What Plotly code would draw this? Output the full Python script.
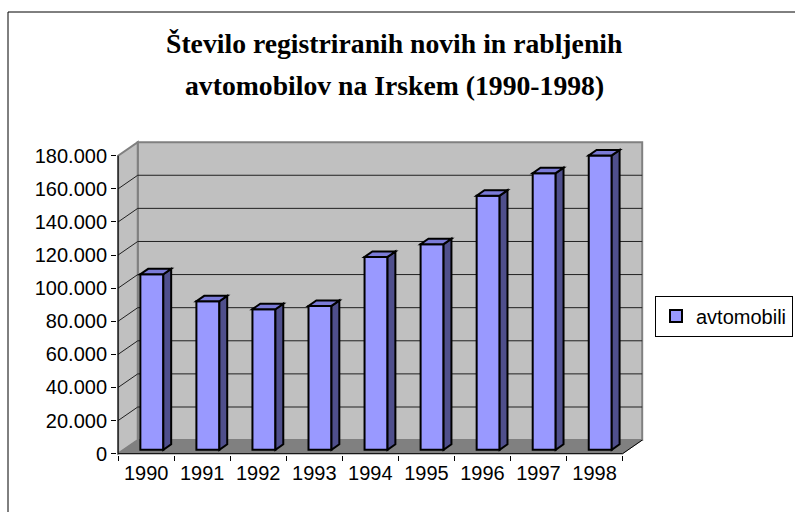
import plotly.graph_objects as go

# ---- data ----
years = ["1990", "1991", "1992", "1993", "1994", "1995", "1996", "1997", "1998"]
cars = [106000, 89700, 84900, 86900, 116500, 124200, 153500, 167100, 177800]
y_ticks = [0, 20000, 40000, 60000, 80000, 100000, 120000, 140000, 160000, 180000]
series_name = "avtomobili"
title_lines = ["Število registriranih novih in rabljenih",
               "avtomobilov na Irskem (1990-1998)"]

# ---- geometry / style ----
W, H = 795, 512
L, R, T, B = 117, 150, 140, 57
PW, PH = W - L - R, H - T - B
X0, X1 = -0.52, 8.9
Y0, Y1 = -800, 189500
DX, DY = 0.35, 8200          # depth offset (back wall relative to front axis)
YMAX = y_ticks[-1]
n = len(years)
XL, XR = -0.5, n - 0.5

T_FRONT, T_BACK = 0.29, 0.69  # depth of bar faces
BW = 0.41

FRONT = "#9999FF"
SIDE = "#4F4F8C"
TOP = "#7B7BD8"
WALL = "#C0C0C0"
FLOOR = "#808080"
EDGE = "#808080"


def px_to_paper_x(px):
    return (px - L) / PW


def px_to_paper_y(py):
    return (H - B - py) / PH


shapes = []
# back wall
shapes.append(dict(type="path", xref="x", yref="y", layer="below",
                   path=f"M{XL+DX},{DY} L{XR+DX},{DY} L{XR+DX},{YMAX+DY} L{XL+DX},{YMAX+DY} Z",
                   fillcolor=WALL, line=dict(color=EDGE, width=2)))
# left wall
shapes.append(dict(type="path", xref="x", yref="y", layer="below",
                   path=f"M{XL},0 L{XL},{YMAX} L{XL+DX},{YMAX+DY} L{XL+DX},{DY} Z",
                   fillcolor=WALL, line=dict(color=EDGE, width=2)))
# floor
shapes.append(dict(type="path", xref="x", yref="y", layer="below",
                   path=f"M{XL},0 L{XR},0 L{XR+DX},{DY} L{XL+DX},{DY} Z",
                   fillcolor=FLOOR, line=dict(color=FLOOR, width=1)))
# floor right edge
shapes.append(dict(type="line", xref="x", yref="y", layer="below",
                   x0=XR, y0=0, x1=XR + DX, y1=DY, line=dict(color="black", width=1)))
# gridlines
for v in y_ticks[1:-1]:
    shapes.append(dict(type="path", xref="x", yref="y", layer="below",
                       path=f"M{XL},{v} L{XL+DX},{v+DY} L{XR+DX},{v+DY}",
                       line=dict(color="#202020", width=1)))
# axis lines
shapes.append(dict(type="line", xref="x", yref="y", layer="below",
                   x0=XL, y0=0, x1=XL, y1=YMAX, line=dict(color="black", width=1)))
shapes.append(dict(type="line", xref="x", yref="y", layer="below",
                   x0=XL, y0=0, x1=XR, y1=0, line=dict(color="black", width=1)))

# bar side and top faces
fx_shift, fy = T_FRONT * DX, T_FRONT * DY
ddx, ddy = (T_BACK - T_FRONT) * DX, (T_BACK - T_FRONT) * DY
for i, v in enumerate(cars):
    xl = i + fx_shift - BW / 2
    xr = i + fx_shift + BW / 2
    base, top = fy, v + fy
    shapes.append(dict(type="path", xref="x", yref="y", layer="above",
                       path=f"M{xr},{base} L{xr},{top} L{xr+ddx},{top+ddy} L{xr+ddx},{base+ddy} Z",
                       fillcolor=SIDE, line=dict(color="black", width=2)))
    shapes.append(dict(type="path", xref="x", yref="y", layer="above",
                       path=f"M{xl},{top} L{xr},{top} L{xr+ddx},{top+ddy} L{xl+ddx},{top+ddy} Z",
                       fillcolor=TOP, line=dict(color="black", width=2)))

# outer chart border
shapes.append(dict(type="rect", xref="paper", yref="paper",
                   x0=px_to_paper_x(8), x1=px_to_paper_x(W + 10),
                   y0=px_to_paper_y(H + 10), y1=px_to_paper_y(12),
                   line=dict(color="black", width=1), fillcolor="rgba(0,0,0,0)"))

fig = go.Figure()
fig.add_trace(go.Bar(
    x=list(range(n)), y=cars, base=[fy] * n,
    width=BW, offset=fx_shift - BW / 2,
    marker=dict(color=FRONT, line=dict(color="black", width=2)),
    name=series_name, showlegend=True, hoverinfo="skip",
))

annotations = []
for line, py in zip(title_lines, [44, 86]):
    annotations.append(dict(
        text=line, xref="paper", yref="paper",
        x=px_to_paper_x(394), y=px_to_paper_y(py),
        xanchor="center", yanchor="middle", showarrow=False,
        font=dict(family="Liberation Serif, Times New Roman, serif", size=27.7,
                  color="black", weight="bold"),
    ))

fig.update_layout(
    width=W, height=H,
    margin=dict(l=L, r=R, t=T, b=B, autoexpand=False),
    paper_bgcolor="white", plot_bgcolor="white",
    separators=",.",
    font=dict(family="Liberation Sans, Arial, sans-serif", size=20, color="black"),
    showlegend=True,
    legend=dict(x=px_to_paper_x(655), y=px_to_paper_y(316), xanchor="left", yanchor="middle",
                bordercolor="black", borderwidth=1, bgcolor="white",
                font=dict(size=20), itemclick=False),
    shapes=shapes,
    annotations=annotations,
    xaxis=dict(range=[X0, X1], tickmode="array", tickvals=list(range(n)), ticktext=years,
               ticks="", ticklen=8, ticklabelstandoff=4, showgrid=False, zeroline=False,
               showline=False, fixedrange=True,
               minor=dict(tickmode="array", tickvals=[i - 0.5 for i in range(n + 1)],
                          ticks="outside", ticklen=5, tickcolor="black", tickwidth=1,
                          showgrid=False)),
    yaxis=dict(range=[Y0, Y1], tickmode="array", tickvals=y_ticks, tickformat=",.0f",
               ticks="outside", ticklen=5, tickcolor="black", tickwidth=1,
               showgrid=False, zeroline=False, showline=False, fixedrange=True),
)

fig.write_html("out.html", config={"displayModeBar": False},
               post_script="document.body.style.margin='0';")
